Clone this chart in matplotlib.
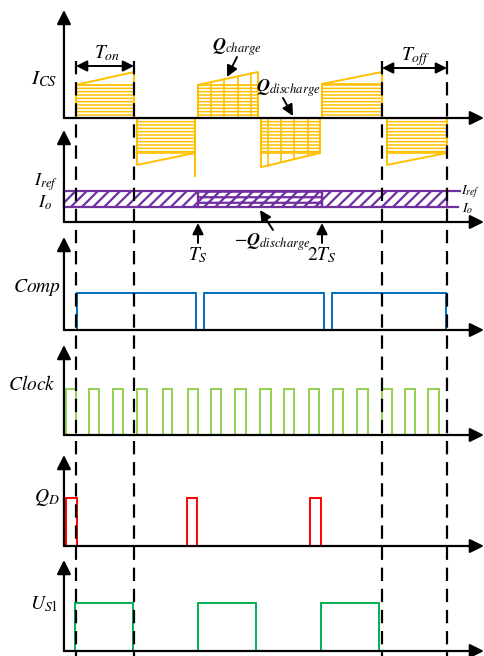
import numpy as np
import matplotlib
matplotlib.use('Agg')
import matplotlib.pyplot as plt
from matplotlib.patches import Polygon
from matplotlib.transforms import Affine2D

plt.rcParams['mathtext.fontset'] = 'stix'
plt.rcParams['font.family'] = 'STIXGeneral'
plt.rcParams['hatch.linewidth'] = 1.0

# time is measured in switching periods (Ts = 1)
# Ics segments: start/end time and start/end current (normalised)
ics_t_start = [0.016, 0.508, 1.000, 1.508, 2.000, 2.524]
ics_t_end = [0.484, 0.976, 1.484, 1.984, 2.484, 3.008]
ics_i_start = [0.72, -1.02, 0.72, -1.07, 0.74, -1.02]
ics_i_end = [1.00, -0.76, 1.00, -0.76, 1.00, -0.76]
ics_spike_t = 0.976
ics_spike_i = -1.26
q_charge_t = [1.105, 1.210, 1.320, 1.430]
q_discharge_t = [1.565, 1.670, 1.774, 1.887]

# reference / output current band
i_ref = 1.0
i_o = 0.50
band_edges = [-0.081, 1.0, 2.0, 3.008]
band_hatch = ['///', '///---', '///']

# on / off intervals marked with dashed lines
ton_t = [0.016, 0.484]
toff_t = [2.484, 3.008]
ts_marks = [1.0, 2.0]

comp_rise = [0.024, 1.048, 2.081]
comp_fall = [0.984, 2.016, 3.000]

clock_rise = [-0.065, 0.121, 0.315, 0.508, 0.718, 0.919, 1.105, 1.298,
              1.500, 1.694, 1.895, 2.089, 2.282, 2.484, 2.669, 2.855]
clock_fall = [0.016, 0.202, 0.395, 0.589, 0.790, 1.000, 1.185, 1.387,
              1.589, 1.774, 1.976, 2.169, 2.371, 2.565, 2.750, 2.944]

qd_rise = [-0.065, 0.911, 1.903]
qd_fall = [0.024, 0.992, 1.992]

us1_rise = [0.008, 1.000, 1.992]
us1_fall = [0.476, 1.468, 2.460]

# layout (pixels from top) : baseline, arrow tip, pixels per unit
W, H = 485, 656
X0, PX_TS = 74.0, 124.0
AXIS_X = -0.081
AXIS_END = 3.306
panels = {
    'ics':   (118, 10, 46),
    'ref':   (222, 130, 31),
    'comp':  (330, 237, 37),
    'clock': (435, 345, 46),
    'qd':    (546, 455, 48),
    'us1':   (651, 560, 48),
}

ORANGE = '#FFC000'
PURPLE = '#7030A0'
BLUE = '#0070C0'
LGREEN = '#92D050'
RED = '#FF0000'
GREEN = '#00B050'


def lx(px):
    # layout helper: pixel column -> time units
    return (px - X0) / PX_TS


fig = plt.figure(figsize=(W / 100, H / 100), dpi=100)
ax = fig.add_axes([0, 0, 1, 1])
ax.set_xlim(lx(0), lx(W))
ax.set_ylim(H, 0)
ax.axis('off')
ax.set_autoscale_on(False)


def panel_tf(name):
    base, _, scale = panels[name]
    return Affine2D().scale(1, -scale).translate(0, base) + ax.transData


def hatch_lw(patch, lw):
    try:
        patch.set_hatch_linewidth(lw)
    except AttributeError:
        pass


arrow_kw = dict(arrowstyle='-|>,head_length=0.6,head_width=0.3', color='k',
                lw=1.6, shrinkA=0, shrinkB=0, mutation_scale=14)

# axes of every panel
for name, (base, top, scale) in panels.items():
    ax.annotate('', xy=(AXIS_END, base), xytext=(AXIS_X, base),
                arrowprops=arrow_kw, zorder=6)
    ax.annotate('', xy=(AXIS_X, top), xytext=(AXIS_X, base),
                arrowprops=arrow_kw, zorder=6)

# ---- Ics ----
tf = panel_tf('ics')
for t0, t1, i0, i1 in zip(ics_t_start, ics_t_end, ics_i_start, ics_i_end):
    m = min(abs(i0), abs(i1)) * np.sign(i0)
    p = Polygon([(t0, 0), (t1, 0), (t1, m), (t0, m)], closed=True,
                facecolor='none', edgecolor=ORANGE, hatch='-----',
                lw=1.2, transform=tf, zorder=3)
    hatch_lw(p, 1.1)
    ax.add_patch(p)
    ax.plot([t0, t0, t1, t1], [0, i0, i1, 0], color=ORANGE, lw=1.4,
            transform=tf, zorder=3)
    for tq in q_charge_t + q_discharge_t:
        if t0 < tq < t1:
            ax.plot([tq, tq], [0, np.interp(tq, [t0, t1], [i0, i1])],
                    color=ORANGE, lw=1.2, transform=tf, zorder=3)
ax.plot([ics_spike_t, ics_spike_t], [0, ics_spike_i], color=ORANGE, lw=1.4,
        transform=tf, zorder=3)

# ---- Iref / Io band ----
tf = panel_tf('ref')
for k, h in enumerate(band_hatch):
    t0, t1 = band_edges[k], band_edges[k + 1]
    p = Polygon([(t0, i_o), (t1, i_o), (t1, i_ref), (t0, i_ref)],
                closed=True, facecolor='none', edgecolor=PURPLE,
                hatch=h, lw=1.6, transform=tf, zorder=3)
    hatch_lw(p, 1.6)
    ax.add_patch(p)
ax.plot([band_edges[-1], lx(460)], [i_ref, i_ref], color=PURPLE, lw=1.6,
        transform=tf, zorder=3)
ax.plot([band_edges[-1], lx(458)], [i_o, i_o], color=PURPLE, lw=1.6,
        transform=tf, zorder=3)


def pulses(name, rises, falls, color):
    tfp = panel_tf(name)
    for r, f in zip(rises, falls):
        ax.plot([r, r, f, f], [0, 1, 1, 0], color=color, lw=1.4,
                transform=tfp, zorder=3, solid_joinstyle='miter')


pulses('comp', comp_rise, comp_fall, BLUE)
pulses('clock', clock_rise, clock_fall, LGREEN)
pulses('qd', qd_rise, qd_fall, RED)
pulses('us1', us1_rise, us1_fall, GREEN)

# dashed switching markers
for t in ton_t + toff_t:
    ax.plot([t, t], [61, H], color='k', lw=1.6, ls=(0, (6, 3.5)), zorder=4)

# Ton / Toff
dbl = dict(arrowstyle='<|-|>,head_length=0.6,head_width=0.3', color='k',
           lw=1.4, shrinkA=0, shrinkB=0, mutation_scale=11)
ax.annotate('', xy=(ton_t[0], 66), xytext=(ton_t[1], 66), arrowprops=dbl)
ax.annotate('', xy=(toff_t[0], 68), xytext=(toff_t[1], 68), arrowprops=dbl)
ax.text(lx(107), 53, r'$T_{on}$', fontsize=14, ha='center', va='center')
ax.text(lx(416), 57, r'$T_{off}$', fontsize=14, ha='center', va='center')

# Q annotations
small = dict(arrowstyle='-|>,head_length=0.6,head_width=0.3', color='k',
             lw=1.4, shrinkA=0, shrinkB=0, mutation_scale=11)
ax.annotate('', xy=(lx(227), 77), xytext=(lx(237), 57), arrowprops=small)
ax.text(lx(237), 47, r'$\mathbfit{Q}_{charge}$', fontsize=13, ha='center',
        va='center')
ax.annotate('', xy=(lx(293), 116), xytext=(lx(283), 98), arrowprops=small)
ax.text(lx(288), 88, r'$\mathbfit{Q}_{discharge}$', fontsize=13,
        ha='center', va='center')
ax.annotate('', xy=(lx(260), 210), xytext=(lx(273), 230), arrowprops=small)
ax.text(lx(272), 242, r'$-\mathbfit{Q}_{discharge}$', fontsize=13,
        ha='center', va='center')

# Ts markers
for t, lab in zip(ts_marks, [r'$T_S$', r'$2T_S$']):
    ax.annotate('', xy=(t, 223), xytext=(t, 243), arrowprops=small)
    ax.text(t, 255, lab, fontsize=14, ha='center', va='center')

# panel labels
ax.text(lx(44), 79, r'$I_{CS}$', fontsize=15, ha='center', va='center')
ax.text(lx(46), 182, r'$I_{ref}$', fontsize=13, ha='center', va='center')
ax.text(lx(45), 203, r'$I_o$', fontsize=13, ha='center', va='center')
ax.text(lx(461), 192, r'$I_{ref}$', fontsize=10, ha='left', va='center')
ax.text(lx(462), 209, r'$I_o$', fontsize=10, ha='left', va='center')
ax.text(lx(37), 288, r'$Comp$', fontsize=14, ha='center', va='center')
ax.text(lx(32), 385, r'$Clock$', fontsize=14, ha='center', va='center')
ax.text(lx(47), 497, r'$Q_D$', fontsize=14, ha='center', va='center')
ax.text(lx(44), 604, r'$U_{S1}$', fontsize=14, ha='center', va='center')

fig.savefig('out.png', dpi=100)
